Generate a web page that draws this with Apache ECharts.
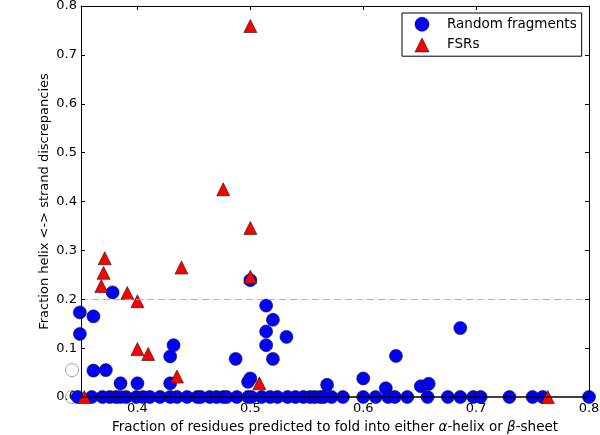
<!DOCTYPE html>
<html><head><meta charset="utf-8">
<script src="https://cdn.jsdelivr.net/npm/echarts@6/dist/echarts.min.js"></script>
<style>html,body{margin:0;padding:0;background:#fff}#c{width:600px;height:435px}</style>
</head><body><div id="c"></div>
<script>
// ---- data ----
const xTicks = [0.4, 0.5, 0.6, 0.7, 0.8];
const yTicks = [0.0, 0.1, 0.2, 0.3, 0.4, 0.5, 0.6, 0.7, 0.8];
const xRange = [0.35, 0.8];
const yRange = [0, 0.8];
const thresholdY = 0.2;
const baselineY = 0;

// Random fragments (blue circles)
const randomX = [
  0.500, 0.378, 0.349, 0.349, 0.361, 0.361, 0.372, 0.385, 0.400, 0.429,
  0.429, 0.432, 0.487, 0.514, 0.520, 0.514, 0.532, 0.514, 0.520, 0.500,
  0.498, 0.568, 0.600, 0.620, 0.629, 0.651, 0.658, 0.686,
  0.347, 0.3595, 0.369, 0.3755, 0.381, 0.385, 0.390, 0.399, 0.405, 0.411,
  0.420, 0.429, 0.435, 0.444, 0.453, 0.456, 0.464, 0.470, 0.476, 0.479,
  0.488, 0.498, 0.501, 0.510, 0.5175, 0.524, 0.533, 0.540, 0.547, 0.553,
  0.557, 0.562, 0.565, 0.572, 0.582, 0.600, 0.611, 0.622, 0.628, 0.639,
  0.657, 0.675, 0.686, 0.6975, 0.704, 0.7295, 0.750, 0.759, 0.800
];
const randomY = [
  0.239, 0.214, 0.173, 0.129, 0.165, 0.054, 0.055, 0.028, 0.028, 0.028,
  0.083, 0.106, 0.078, 0.187, 0.158, 0.134, 0.123, 0.106, 0.078, 0.038,
  0.031, 0.025, 0.038, 0.018, 0.084, 0.022, 0.027, 0.141,
  0, 0, 0, 0, 0, 0, 0, 0, 0, 0,
  0, 0, 0, 0, 0, 0, 0, 0, 0, 0,
  0, 0, 0, 0, 0, 0, 0, 0, 0, 0,
  0, 0, 0, 0, 0, 0, 0, 0, 0, 0,
  0, 0, 0, 0, 0, 0, 0, 0, 0
];

// FSRs (red triangles)
const fsrX = [0.500, 0.476, 0.500, 0.500, 0.439, 0.371, 0.370, 0.368, 0.391, 0.400, 0.400, 0.4095, 0.435, 0.508, 0.353, 0.7635];
const fsrY = [0.759, 0.425, 0.346, 0.246, 0.265, 0.284, 0.254, 0.227, 0.213, 0.196, 0.098, 0.088, 0.042, 0.028, 0.0, 0.0];

// hollow grey markers sitting left of the y axis
const offAxisX = [0.342, 0.342];
const offAxisY = [0.055, 0.0];

const zip = (xs, ys) => xs.map((x, i) => [x, ys[i]]);
const FONT = '"DejaVu Sans"';
const FS = 13;
const FS_XNAME = 13.5;
const fmt = v => Number(v).toFixed(1);

const lineAxisY = pos => ({
  type: 'value', position: pos, min: yRange[0], max: yRange[1], interval: 0.1, z: 10,
  axisLine: {show: true, onZero: false, lineStyle: {color: '#000', width: 1}},
  axisTick: {show: true, inside: true, length: 4, lineStyle: {color: '#000'}},
  axisLabel: {show: false}, splitLine: {show: false}
});

const chart = echarts.init(document.getElementById('c'), null, {renderer: 'canvas'});
chart.setOption({
  animation: false,
  backgroundColor: '#fff',
  grid: {left: 81, right: 11, top: 6, bottom: 38, containLabel: false, outerBoundsMode: 'none'},
  xAxis: [
    {
      type: 'value', position: 'bottom', min: xRange[0], max: xRange[1], z: 1,
      axisLine: {show: false, onZero: false},
      axisTick: {show: true, inside: true, length: 4, customValues: xTicks, lineStyle: {color: '#000'}},
      splitLine: {show: false},
      axisLabel: {customValues: xTicks, formatter: fmt, margin: 5, color: '#000', fontSize: FS, fontFamily: FONT},
      name: 'Fraction of residues predicted to fold into either {i|α}-helix or {i|β}-sheet',
      nameLocation: 'middle', nameGap: 23.5,
      nameTextStyle: {color: '#000', fontSize: FS_XNAME, fontFamily: FONT,
        rich: {i: {fontStyle: 'italic', fontSize: FS_XNAME, fontFamily: FONT, color: '#000'}}}
    },
    {
      type: 'value', position: 'top', min: xRange[0], max: xRange[1], z: 10,
      axisLine: {show: true, onZero: false, lineStyle: {color: '#000', width: 1}},
      axisTick: {show: true, inside: true, length: 4, customValues: xTicks, lineStyle: {color: '#000'}},
      axisLabel: {show: false}, splitLine: {show: false}
    }
  ],
  yAxis: [
    {
      type: 'value', position: 'left', min: yRange[0], max: yRange[1], interval: 0.1, z: 1,
      axisLine: {show: false, onZero: false}, axisTick: {show: false}, splitLine: {show: false},
      axisLabel: {formatter: fmt, margin: 4, color: '#000', fontSize: FS, fontFamily: FONT},
      name: 'Fraction helix <-> strand discrepancies',
      nameLocation: 'middle', nameGap: 30, nameMoveOverlap: false,
      nameTextStyle: {color: '#000', fontSize: FS, fontFamily: FONT}
    },
    lineAxisY('left'),
    lineAxisY('right')
  ],
  legend: {
    orient: 'vertical', left: 402, top: 13,
    padding: [4, 5, 4, 12.7], itemWidth: 14, itemHeight: 14, itemGap: 6,
    borderColor: '#000', borderWidth: 1, borderRadius: 0, backgroundColor: '#fff',
    itemStyle: {borderWidth: 0.6, borderColor: '#111'},
    textStyle: {fontSize: 13.5, fontFamily: FONT, color: '#000', padding: [0, 0, 0, 13]},
    data: ['Random fragments', 'FSRs'], selectedMode: false
  },
  series: [
    {
      name: 'threshold', type: 'line', data: [], z: 1, silent: true,
      markLine: {
        silent: true, symbol: 'none', label: {show: false},
        lineStyle: {color: '#b5b5b5', width: 1, type: [7, 4]},
        data: [{yAxis: thresholdY}]
      }
    },
    {
      name: 'offaxis', type: 'scatter', clip: false, z: 2, silent: true,
      symbol: 'circle', symbolSize: 13,
      itemStyle: {color: 'rgba(255,255,255,0)', borderColor: '#888', borderWidth: 1},
      data: zip(offAxisX, offAxisY)
    },
    {
      name: 'Random fragments', type: 'scatter', clip: false, z: 3,
      symbol: 'circle', symbolSize: 13,
      itemStyle: {color: '#0000ff', borderColor: '#111', borderWidth: 0.6, opacity: 1},
      data: zip(randomX, randomY)
    },
    {
      name: 'FSRs', type: 'scatter', clip: false, z: 4,
      symbol: 'triangle', symbolSize: 13,
      itemStyle: {color: '#ff0000', borderColor: '#111', borderWidth: 0.6, opacity: 1},
      data: zip(fsrX, fsrY)
    },
    {
      name: 'baseline', type: 'line', data: [], z: 10, silent: true,
      markLine: {
        silent: true, symbol: 'none', label: {show: false},
        lineStyle: {color: '#000', width: 1.5, type: 'solid'},
        data: [{yAxis: baselineY}]
      }
    }
  ]
});
</script>
</body></html>
